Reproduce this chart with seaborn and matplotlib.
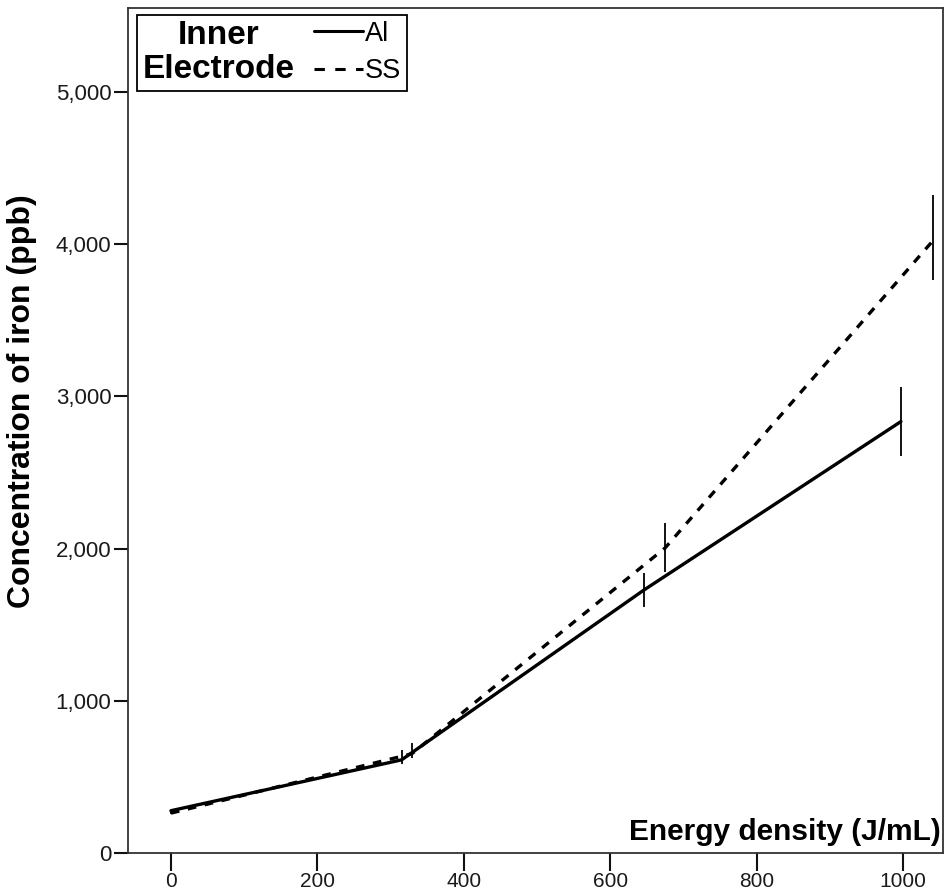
import numpy as np
import pandas as pd
import matplotlib
matplotlib.use("Agg")
import matplotlib.pyplot as plt
import seaborn as sns
from matplotlib.ticker import FuncFormatter, FixedLocator
from matplotlib.offsetbox import HPacker
from matplotlib.lines import Line2D
from matplotlib.font_manager import FontProperties

# ---- data ----
electrodes = ["Al", "SS"]
al_energy = [0, 315, 646, 997]
al_iron = [278, 612, 1728, 2835]
al_lower = [272, 588, 1616, 2608]
al_upper = [284, 675, 1840, 3062]
ss_energy = [0, 329, 675, 1041]
ss_iron = [262, 652, 2005, 4025]
ss_lower = [256, 624, 1846, 3765]
ss_upper = [268, 723, 2168, 4323]
x_ticks = [0, 200, 400, 600, 800, 1000]
y_ticks = [0, 1000, 2000, 3000, 4000, 5000]

df = pd.DataFrame({
    "energy": al_energy + ss_energy,
    "iron": al_iron + ss_iron,
    "lower": al_lower + ss_lower,
    "upper": al_upper + ss_upper,
    "electrode": [electrodes[0]] * len(al_energy) + [electrodes[1]] * len(ss_energy),
})

sns.set_style("white")
plt.rcParams["font.family"] = ["Liberation Sans", "DejaVu Sans"]
plt.rcParams["text.color"] = "black"
plt.rcParams["axes.labelcolor"] = "black"

narrow = ["Liberation Sans Narrow", "Liberation Sans", "DejaVu Sans"]
bold = ["Liberation Sans", "DejaVu Sans"]

fig = plt.figure(figsize=(9.45, 8.92), dpi=100)
ax = fig.add_axes([0.1354, 0.0437, 0.8626, 0.9473])

sns.lineplot(data=df, x="energy", y="iron", style="electrode",
             dashes={"Al": "", "SS": (2.6, 2.6)}, color="black",
             linewidth=2.4, estimator=None, sort=False, legend=False, ax=ax)

ax.vlines(df["energy"], df["lower"], df["upper"], color="black", linewidth=1.3)

ax.set_xlim(-58.7, 1054.6)
ax.set_ylim(0, 5552)
ax.xaxis.set_major_locator(FixedLocator(x_ticks))
ax.yaxis.set_major_locator(FixedLocator(y_ticks))
ax.yaxis.set_major_formatter(FuncFormatter(lambda v, p: f"{int(v):,}"))

ax.tick_params(axis="x", direction="out", length=13, width=1.5, pad=1, bottom=True, colors="#111111")
ax.tick_params(axis="y", direction="out", length=10, width=1.5, pad=2, left=True, colors="#111111")
for lab in ax.get_xticklabels():
    lab.set_family(narrow)
    lab.set_fontsize(15)
    lab.set_color("#1a1a1a")
for lab in ax.get_yticklabels():
    lab.set_family(narrow)
    lab.set_fontsize(16)
    lab.set_color("#1a1a1a")

for s in ax.spines.values():
    s.set_visible(True)
    s.set_linewidth(1.3)
    s.set_color("#333333")

ax.set_xlabel("Energy density (J/mL)", fontsize=21.5, fontweight="bold", family=bold,
              ha="right", va="bottom", color="black")
ax.xaxis.set_label_coords(0.997, 0.008)
ax.set_ylabel("Concentration of iron (ppb)", fontsize=23, fontweight="bold", family=bold,
              color="black")
ax.yaxis.set_label_coords(-0.112, 0.535)

# ---- legend: title on the left, entries on the right ----
handles = [Line2D([], [], color="black", linewidth=2.2, linestyle="-"),
           Line2D([], [], color="black", linewidth=2.2, linestyle=(0, (3.4, 3.4)))]
leg = ax.legend(handles, electrodes, title="Inner\nElectrode",
                loc="upper left", bbox_to_anchor=(0.011, 0.992),
                frameon=True, fancybox=False, edgecolor="black",
                prop=FontProperties(family=narrow, size=19.5),
                title_fontproperties=FontProperties(family=bold, size=24, weight="bold"),
                handlelength=1.8, handletextpad=0.1, borderpad=0.2,
                labelspacing=0.42, borderaxespad=0)
leg.get_frame().set_linewidth(1.3)
leg.get_frame().set_alpha(None)
leg.get_frame().set_facecolor("white")
leg.get_title().set_multialignment("center")
leg.get_title().set_linespacing(1.12)
leg.get_title().set_color("black")
for t in leg.get_texts():
    t.set_color("black")
old = leg._legend_box
newbox = HPacker(pad=old.pad, sep=14, align="center",
                 children=[leg._legend_title_box, leg._legend_handle_box])
newbox.set_figure(fig)
newbox.axes = ax
leg._legend_box = newbox
newbox.set_offset(leg._findoffset)

fig.savefig("out.png", dpi=100, facecolor="white")
